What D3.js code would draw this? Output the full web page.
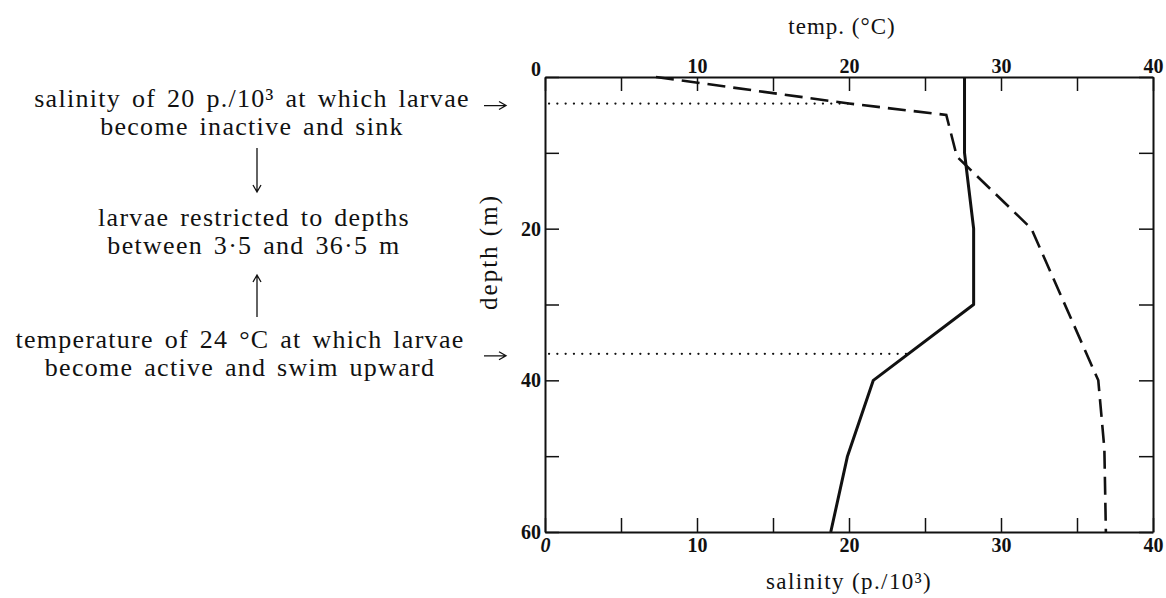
<!DOCTYPE html>
<html>
<head>
<meta charset="utf-8">
<script src="https://cdn.jsdelivr.net/npm/d3@7"></script>
<style>
  body { margin: 0; background: #fff; }
  svg text { font-family: "Liberation Serif", "Times New Roman", serif; fill: #111; }
  .tick-label { font-size: 20px; font-weight: bold; }
</style>
</head>
<body>
<div id="chart"></div>
<script>

// temperature profile (solid line)
const tempDepth = [0, 10, 15, 20, 30, 40, 50, 60];
const tempValues = [27.6, 27.6, 27.9, 28.2, 28.2, 21.6, 19.9, 18.8];

// salinity profile (dashed line)
const salDepth = [0, 3.5, 5, 10.5, 20, 40, 49, 60];
const salValues = [7.3, 20.0, 26.4, 27.1, 32.0, 36.4, 36.8, 36.9];

// dotted threshold lines: depth and the value where they stop
const thresholdDepths = [3.5, 36.5];
const thresholdEnds = [20, 24];

const xTicks = [0, 5, 10, 15, 20, 25, 30, 35, 40];
const xLabels = [0, 10, 20, 30, 40];
const depthTicks = [0, 10, 20, 30, 40, 50, 60];
const depthLabels = [0, 20, 40, 60];

const noteLines = [
  ["salinity of 20 p./10³ at which larvae", "become inactive and sink"],
  ["larvae restricted to depths", "between 3·5 and 36·5 m"],
  ["temperature of 24 °C at which larvae", "become active and swim upward"]
];

const W = 1166, H = 598;
const plot = {left: 545, right: 1153, top: 77, bottom: 532};

const svg = d3.select("#chart").append("svg")
  .attr("width", W)
  .attr("height", H);

const x = d3.scaleLinear().domain([0, 40]).range([plot.left, plot.right]);
const y = d3.scaleLinear().domain([0, 60]).range([plot.top, plot.bottom]);

function styleAxis(g) {
  g.attr("font-family", null).attr("font-size", null);
  g.select(".domain").attr("stroke", "#111").attr("stroke-width", 2);
  g.selectAll(".tick line").attr("stroke", "#111").attr("stroke-width", 1.5);
  g.selectAll(".tick text").attr("class", "tick-label");
}

// top axis (temp.)
svg.append("g")
  .attr("transform", "translate(0," + plot.top + ")")
  .call(d3.axisTop(x).tickValues(xTicks).tickSize(-14).tickSizeOuter(0).tickPadding(4)
    .tickFormat(d => (xLabels.includes(d) && d !== 0) ? d : ""))
  .call(styleAxis);

// bottom axis (salinity)
svg.append("g")
  .attr("transform", "translate(0," + plot.bottom + ")")
  .call(d3.axisBottom(x).tickValues(xTicks).tickSize(-14).tickSizeOuter(0).tickPadding(6)
    .tickFormat(d => xLabels.includes(d) ? d : ""))
  .call(styleAxis)
  .selectAll(".tick text")
    .style("font-style", d => d === 0 ? "italic" : null);

// left axis (depth)
svg.append("g")
  .attr("transform", "translate(" + plot.left + ",0)")
  .call(d3.axisLeft(y).tickValues(depthTicks).tickSize(-14).tickSizeOuter(0).tickPadding(4)
    .tickFormat(d => depthLabels.includes(d) ? d : ""))
  .call(styleAxis)
  .selectAll(".tick text")
    .attr("dy", d => d === 0 ? "-0.1em" : "0.32em");

// right axis, ticks only
svg.append("g")
  .attr("transform", "translate(" + plot.right + ",0)")
  .call(d3.axisRight(y).tickValues(depthTicks).tickSize(-14).tickSizeOuter(0).tickFormat(""))
  .call(styleAxis);

// axis titles
svg.append("text")
  .attr("x", 842).attr("y", 34)
  .attr("text-anchor", "middle")
  .style("font-size", "23px").style("letter-spacing", "1px")
  .text("temp. (°C)");

svg.append("text")
  .attr("x", 849).attr("y", 589)
  .attr("text-anchor", "middle")
  .style("font-size", "23px").style("letter-spacing", "1.4px")
  .text("salinity (p./10³)");

svg.append("text")
  .attr("transform", "translate(497,252) rotate(-90)")
  .attr("text-anchor", "middle")
  .style("font-size", "25px").style("letter-spacing", "2px")
  .text("depth (m)");

// dotted threshold lines
svg.selectAll(".threshold")
  .data(d3.zip(thresholdDepths, thresholdEnds))
  .enter().append("line")
    .attr("class", "threshold")
    .attr("x1", x(0) + 4)
    .attr("x2", d => x(d[1]))
    .attr("y1", d => y(d[0]))
    .attr("y2", d => y(d[0]))
    .attr("stroke", "#111")
    .attr("stroke-width", 2.2)
    .attr("stroke-linecap", "round")
    .attr("stroke-dasharray", "0.1,8.2");

const line = d3.line()
  .x(d => x(d[1]))
  .y(d => y(d[0]));

// salinity: dashed
svg.append("path")
  .attr("d", line(d3.zip(salDepth, salValues)))
  .attr("fill", "none")
  .attr("stroke", "#111")
  .attr("stroke-width", 2.6)
  .attr("stroke-dasharray", "18,8");

// temperature: solid
svg.append("path")
  .attr("d", line(d3.zip(tempDepth, tempValues)))
  .attr("fill", "none")
  .attr("stroke", "#111")
  .attr("stroke-width", 3)
  .attr("stroke-linejoin", "round");

// annotation text on the left
const noteFirstBaseline = [107, 226, 348];
const noteCenter = [252, 254, 240];

noteLines.forEach(function(lines, i) {
  svg.append("text")
    .attr("text-anchor", "middle")
    .style("font-size", "26px")
    .style("letter-spacing", "1.3px")
    .style("word-spacing", "3px")
    .selectAll("tspan")
    .data(lines)
    .enter().append("tspan")
      .attr("x", noteCenter[i])
      .attr("y", (d, j) => noteFirstBaseline[i] + j * 28)
      .text(d => d);
});

// arrows pointing at the threshold lines
thresholdDepths.forEach(function(dep) {
  var ay = y(dep) + 2;
  svg.append("path")
    .attr("d", "M484," + ay + "H506M499," + (ay - 4) + "L506," + ay + "L499," + (ay + 4))
    .attr("fill", "none")
    .attr("stroke", "#111")
    .attr("stroke-width", 1.3);
});

// vertical arrows between the notes
function vArrow(xp, y1, y2) {
  var s = y2 > y1 ? 1 : -1;
  svg.append("path")
    .attr("d", "M" + xp + "," + y1 + "V" + y2 +
      "M" + (xp - 4) + "," + (y2 - 7 * s) + "L" + xp + "," + y2 + "L" + (xp + 4) + "," + (y2 - 7 * s))
    .attr("fill", "none")
    .attr("stroke", "#111")
    .attr("stroke-width", 1.3);
}
vArrow(257, 148, 192);
vArrow(257, 317, 275);

</script>
</body>
</html>
